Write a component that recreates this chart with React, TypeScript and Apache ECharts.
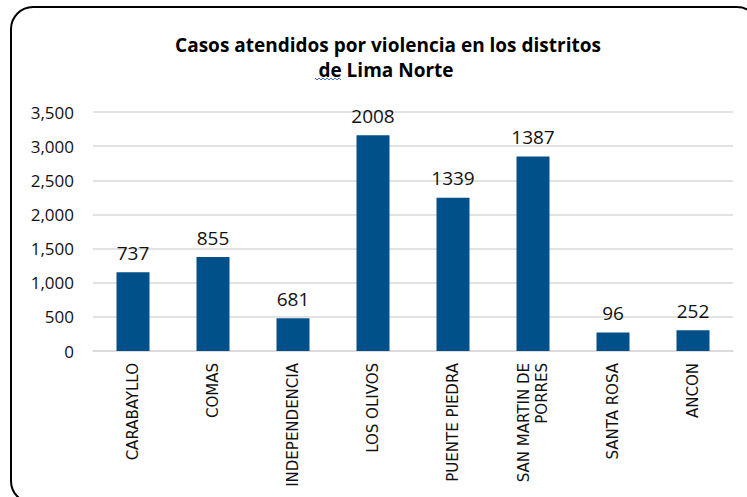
import React, { useEffect, useRef } from "react";
import * as echarts from "echarts";

const categories = [
  "CARABAYLLO",
  "COMAS",
  "INDEPENDENCIA",
  "LOS OLIVOS",
  "PUENTE PIEDRA",
  "SAN MARTIN DE\nPORRES",
  "SANTA ROSA",
  "ANCON",
];
const barValues = [1155, 1375, 480, 3160, 2245, 2850, 270, 305];
const labelValues = ["737", "855", "681", "2008", "1339", "1387", "96", "252"];
const yTicks = { min: 0, max: 3500, interval: 500 };
const titleLines = ["Casos atendidos por violencia en los distritos", "de Lima Norte"];

export default function App() {
  const ref = useRef<HTMLDivElement>(null);
  useEffect(() => {
    if (!ref.current) return;
    const chart = echarts.init(ref.current, null, { renderer: "svg" });
    const squiggle: number[][] = [];
    for (let i = 0; i <= 13; i++) squiggle.push([315 + i * 2, i % 2 === 0 ? 78 : 80]);
    chart.setOption({
      animation: false,
      backgroundColor: "#fff",
      grid: { left: 93, right: 14, top: 112, bottom: 146 },
      xAxis: {
        type: "category",
        data: categories,
        axisLine: { lineStyle: { color: "#d9d9d9", width: 1.5 } },
        axisTick: { show: false },
        axisLabel: {
          rotate: 90,
          interval: 0,
          margin: 12,
          fontFamily: "DejaVu Sans",
          fontSize: 15,
          color: "#111",
          lineHeight: 18,
        },
      },
      yAxis: {
        type: "value",
        min: yTicks.min,
        max: yTicks.max,
        interval: yTicks.interval,
        axisLine: { show: false },
        axisTick: { show: false },
        splitLine: { lineStyle: { color: "#d9d9d9", width: 1.5 } },
        axisLabel: {
          margin: 19,
          fontFamily: "Open Sans",
          fontSize: 17,
          color: "#111",
          formatter: (v: number) => v.toLocaleString("en-US"),
        },
      },
      series: [
        {
          type: "bar",
          data: barValues,
          barWidth: 33,
          itemStyle: { color: "#02508A" },
          label: {
            show: true,
            position: "top",
            distance: 10,
            fontFamily: "Open Sans",
            fontSize: 19,
            color: "#111",
            formatter: (p: any) => labelValues[p.dataIndex],
          },
        },
      ],
      graphic: [
        {
          type: "rect",
          shape: { x: 11, y: 7, width: 748, height: 496, r: 22 },
          style: { fill: "none", stroke: "#000", lineWidth: 2 },
          silent: true,
        },
        {
          type: "text",
          style: {
            text: titleLines[0],
            x: 388,
            y: 45,
            align: "center",
            verticalAlign: "middle",
            fontFamily: "Open Sans",
            fontWeight: "bold",
            fontSize: 19,
            fill: "#000",
          },
        },
        {
          type: "text",
          style: {
            text: titleLines[1],
            x: 386,
            y: 70,
            align: "center",
            verticalAlign: "middle",
            fontFamily: "Open Sans",
            fontWeight: "bold",
            fontSize: 19,
            fill: "#000",
          },
        },
        {
          type: "polyline",
          shape: { points: squiggle },
          style: { stroke: "#4a6fd8", lineWidth: 1, fill: "none" },
          silent: true,
        },
      ],
    });
    return () => chart.dispose();
  }, []);
  return (
    <div
      ref={ref}
      style={{ position: "fixed", left: 0, top: 0, width: 747, height: 497 }}
    />
  );
}
